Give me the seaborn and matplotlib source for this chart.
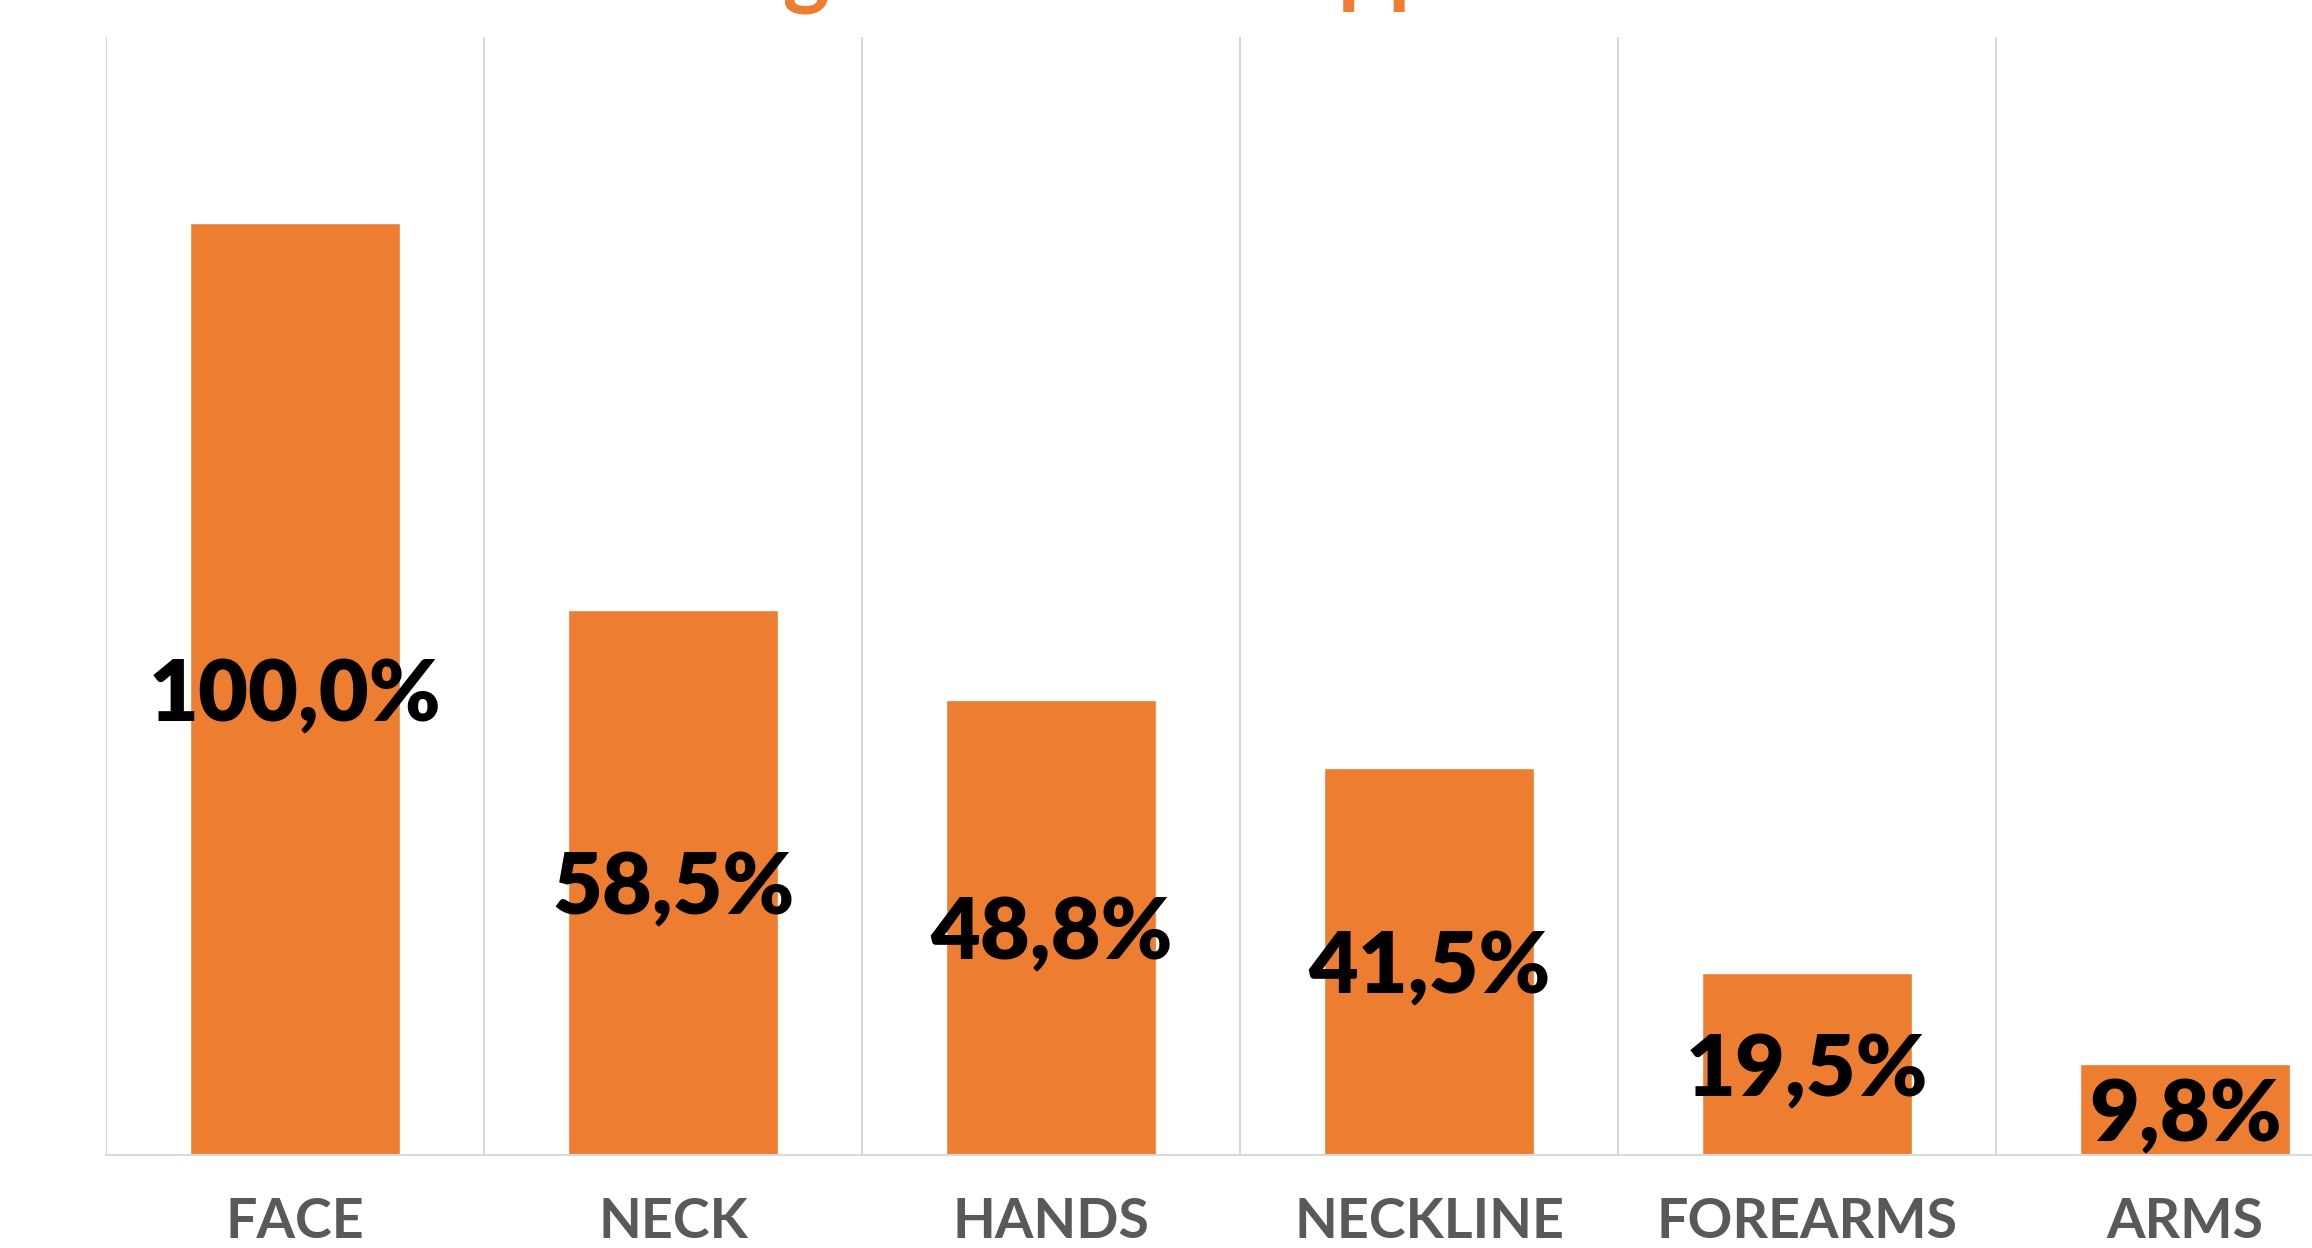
import matplotlib
matplotlib.use('Agg')
import matplotlib.pyplot as plt
import numpy as np
import pandas as pd
import seaborn as sns

# Data
areas = ['FACE', 'NECK', 'HANDS', 'NECKLINE', 'FOREARMS', 'ARMS']
shares = [100.0, 58.5, 48.8, 41.5, 19.5, 9.8]
title_text = 'Skin bleaching cream was applied to each area'

df = pd.DataFrame({'area': areas, 'share': shares})

sns.set_style('white')
plt.rcParams['font.family'] = ['Lato', 'DejaVu Sans']

orange = '#ED7D31'

fig = plt.figure(figsize=(23.12, 12.48), dpi=100)
ax = fig.add_axes([0.0459, 0.0745, 0.981, 0.8958])

sns.barplot(data=df, x='area', y='share', color=orange, width=0.555,
            saturation=1, ax=ax)

ax.set_xlim(-0.5, len(areas) - 0.5)
ax.set_ylim(0, 120)

# vertical separators between categories
ax.set_xticks(np.arange(-0.5, len(areas), 1), minor=True)
ax.grid(which='minor', axis='x', color='#d9d9d9', linewidth=1.5)
ax.grid(which='major', visible=False)
ax.set_axisbelow(True)
ax.tick_params(axis='x', which='both', length=0)
ax.tick_params(axis='x', which='major', pad=30, labelsize=40, labelcolor='#595959')
for lab in ax.get_xticklabels():
    lab.set_fontweight('bold')
ax.set_yticks([])
ax.set_xlabel('')
ax.set_ylabel('')

for side in ['top', 'left', 'right']:
    ax.spines[side].set_visible(False)
ax.spines['bottom'].set_color('#d9d9d9')
ax.spines['bottom'].set_linewidth(1.5)

labels = [f'{v:.1f}%'.replace('.', ',') for v in shares]
anns = ax.bar_label(ax.containers[0], labels=labels, label_type='center',
                    fontsize=62, fontweight='heavy', color='black')
for a in anns:
    a.xyann = (0, -5)

# title mostly cut off at the top edge, as in the source
fig.text(262 / 2312, 1.003, title_text, ha='left', va='baseline',
         fontsize=64, fontweight='bold', color=orange)

fig.savefig('out.png', dpi=100)
